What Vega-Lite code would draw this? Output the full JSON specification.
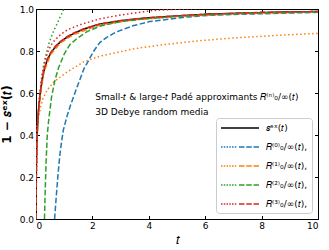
{
  "$schema": "https://vega.github.io/schema/vega-lite/v6.json",
  "width": 282,
  "height": 210,
  "autosize": {"type": "none"},
  "padding": {"left": 36, "top": 9, "right": 11, "bottom": 31},
  "background": "white",
  "config": {
    "view": {"stroke": "black", "strokeWidth": 1},
    "font": "DejaVu Sans",
    "axis": {"grid": false, "domain": false, "tickColor": "black", "tickSize": -3.5, "tickWidth": 1, "labelColor": "black", "labelFontSize": 9, "labelFont": "DejaVu Sans", "titleColor": "black"}
  },
  "datasets": {
    "curves": [
      {"c": "sex", "k": "solid", "t": 0, "y": 0}, {"c": "sex", "k": "solid", "t": 0.003, "y": 0.12}, {"c": "sex", "k": "solid", "t": 0.008, "y": 0.2}, {"c": "sex", "k": "solid", "t": 0.015, "y": 0.27}, {"c": "sex", "k": "solid", "t": 0.03, "y": 0.36}, {"c": "sex", "k": "solid", "t": 0.047, "y": 0.424}, {"c": "sex", "k": "solid", "t": 0.07, "y": 0.48}, {"c": "sex", "k": "solid", "t": 0.1, "y": 0.53}, {"c": "sex", "k": "solid", "t": 0.14, "y": 0.582}, {"c": "sex", "k": "solid", "t": 0.2, "y": 0.645}, {"c": "sex", "k": "solid", "t": 0.28, "y": 0.705}, {"c": "sex", "k": "solid", "t": 0.4, "y": 0.758}, {"c": "sex", "k": "solid", "t": 0.52, "y": 0.789}, {"c": "sex", "k": "solid", "t": 0.7, "y": 0.822}, {"c": "sex", "k": "solid", "t": 0.87, "y": 0.844}, {"c": "sex", "k": "solid", "t": 1.1, "y": 0.866}, {"c": "sex", "k": "solid", "t": 1.34, "y": 0.884}, {"c": "sex", "k": "solid", "t": 1.7, "y": 0.905}, {"c": "sex", "k": "solid", "t": 2.26, "y": 0.928}, {"c": "sex", "k": "solid", "t": 3, "y": 0.944}, {"c": "sex", "k": "solid", "t": 3.44, "y": 0.951}, {"c": "sex", "k": "solid", "t": 4, "y": 0.958}, {"c": "sex", "k": "solid", "t": 5, "y": 0.967}, {"c": "sex", "k": "solid", "t": 6.15, "y": 0.976}, {"c": "sex", "k": "solid", "t": 7, "y": 0.979}, {"c": "sex", "k": "solid", "t": 8, "y": 0.983}, {"c": "sex", "k": "solid", "t": 9, "y": 0.986}, {"c": "sex", "k": "solid", "t": 10, "y": 0.988},

      {"c": "R0", "k": "dashed", "t": 0.66, "y": 0}, {"c": "R0", "k": "dashed", "t": 0.72, "y": 0.11}, {"c": "R0", "k": "dashed", "t": 0.78, "y": 0.21}, {"c": "R0", "k": "dashed", "t": 0.85, "y": 0.31}, {"c": "R0", "k": "dashed", "t": 0.92, "y": 0.38}, {"c": "R0", "k": "dashed", "t": 0.97, "y": 0.424}, {"c": "R0", "k": "dashed", "t": 1.1, "y": 0.49}, {"c": "R0", "k": "dashed", "t": 1.22, "y": 0.54}, {"c": "R0", "k": "dashed", "t": 1.38, "y": 0.6}, {"c": "R0", "k": "dashed", "t": 1.46, "y": 0.63}, {"c": "R0", "k": "dashed", "t": 1.7, "y": 0.715}, {"c": "R0", "k": "dashed", "t": 2.05, "y": 0.8}, {"c": "R0", "k": "dashed", "t": 2.26, "y": 0.84}, {"c": "R0", "k": "dashed", "t": 2.52, "y": 0.866}, {"c": "R0", "k": "dashed", "t": 2.87, "y": 0.892}, {"c": "R0", "k": "dashed", "t": 3.44, "y": 0.92}, {"c": "R0", "k": "dashed", "t": 4.03, "y": 0.94}, {"c": "R0", "k": "dashed", "t": 5.2, "y": 0.96}, {"c": "R0", "k": "dashed", "t": 6.15, "y": 0.97}, {"c": "R0", "k": "dashed", "t": 7, "y": 0.974}, {"c": "R0", "k": "dashed", "t": 7.9, "y": 0.977}, {"c": "R0", "k": "dashed", "t": 9, "y": 0.981}, {"c": "R0", "k": "dashed", "t": 10, "y": 0.984},

      {"c": "R1", "k": "dashed", "t": 0, "y": 0}, {"c": "R1", "k": "dashed", "t": 0.008, "y": 0.195}, {"c": "R1", "k": "dashed", "t": 0.03, "y": 0.355}, {"c": "R1", "k": "dashed", "t": 0.07, "y": 0.475}, {"c": "R1", "k": "dashed", "t": 0.14, "y": 0.577}, {"c": "R1", "k": "dashed", "t": 0.28, "y": 0.7}, {"c": "R1", "k": "dashed", "t": 0.52, "y": 0.784}, {"c": "R1", "k": "dashed", "t": 0.87, "y": 0.839}, {"c": "R1", "k": "dashed", "t": 1.34, "y": 0.879}, {"c": "R1", "k": "dashed", "t": 2.26, "y": 0.924}, {"c": "R1", "k": "dashed", "t": 3.44, "y": 0.948}, {"c": "R1", "k": "dashed", "t": 5, "y": 0.964}, {"c": "R1", "k": "dashed", "t": 7, "y": 0.977}, {"c": "R1", "k": "dashed", "t": 10, "y": 0.986},

      {"c": "R1", "k": "dotted", "t": 0, "y": 0}, {"c": "R1", "k": "dotted", "t": 0.01, "y": 0.3}, {"c": "R1", "k": "dotted", "t": 0.03, "y": 0.42}, {"c": "R1", "k": "dotted", "t": 0.05, "y": 0.457}, {"c": "R1", "k": "dotted", "t": 0.12, "y": 0.503}, {"c": "R1", "k": "dotted", "t": 0.165, "y": 0.535}, {"c": "R1", "k": "dotted", "t": 0.25, "y": 0.575}, {"c": "R1", "k": "dotted", "t": 0.4, "y": 0.614}, {"c": "R1", "k": "dotted", "t": 0.64, "y": 0.654}, {"c": "R1", "k": "dotted", "t": 1.1, "y": 0.7}, {"c": "R1", "k": "dotted", "t": 1.7, "y": 0.749}, {"c": "R1", "k": "dotted", "t": 2.29, "y": 0.776}, {"c": "R1", "k": "dotted", "t": 3.11, "y": 0.8}, {"c": "R1", "k": "dotted", "t": 3.44, "y": 0.81}, {"c": "R1", "k": "dotted", "t": 4.5, "y": 0.83}, {"c": "R1", "k": "dotted", "t": 5.8, "y": 0.849}, {"c": "R1", "k": "dotted", "t": 7, "y": 0.862}, {"c": "R1", "k": "dotted", "t": 8.5, "y": 0.874}, {"c": "R1", "k": "dotted", "t": 10, "y": 0.884},

      {"c": "R2", "k": "dashed", "t": 0.3, "y": 0}, {"c": "R2", "k": "dashed", "t": 0.33, "y": 0.15}, {"c": "R2", "k": "dashed", "t": 0.36, "y": 0.28}, {"c": "R2", "k": "dashed", "t": 0.4, "y": 0.4}, {"c": "R2", "k": "dashed", "t": 0.45, "y": 0.47}, {"c": "R2", "k": "dashed", "t": 0.55, "y": 0.58}, {"c": "R2", "k": "dashed", "t": 0.67, "y": 0.66}, {"c": "R2", "k": "dashed", "t": 0.8, "y": 0.72}, {"c": "R2", "k": "dashed", "t": 1.0, "y": 0.785}, {"c": "R2", "k": "dashed", "t": 1.2, "y": 0.83}, {"c": "R2", "k": "dashed", "t": 1.46, "y": 0.86}, {"c": "R2", "k": "dashed", "t": 1.81, "y": 0.892}, {"c": "R2", "k": "dashed", "t": 2.26, "y": 0.918}, {"c": "R2", "k": "dashed", "t": 3, "y": 0.94}, {"c": "R2", "k": "dashed", "t": 4, "y": 0.955}, {"c": "R2", "k": "dashed", "t": 5, "y": 0.965}, {"c": "R2", "k": "dashed", "t": 6, "y": 0.972}, {"c": "R2", "k": "dashed", "t": 7, "y": 0.977}, {"c": "R2", "k": "dashed", "t": 8, "y": 0.981}, {"c": "R2", "k": "dashed", "t": 9, "y": 0.984}, {"c": "R2", "k": "dashed", "t": 10, "y": 0.986},

      {"c": "R2", "k": "dotted", "t": 0, "y": 0}, {"c": "R2", "k": "dotted", "t": 0.02, "y": 0.29}, {"c": "R2", "k": "dotted", "t": 0.05, "y": 0.44}, {"c": "R2", "k": "dotted", "t": 0.1, "y": 0.55}, {"c": "R2", "k": "dotted", "t": 0.165, "y": 0.63}, {"c": "R2", "k": "dotted", "t": 0.22, "y": 0.69}, {"c": "R2", "k": "dotted", "t": 0.28, "y": 0.741}, {"c": "R2", "k": "dotted", "t": 0.37, "y": 0.79}, {"c": "R2", "k": "dotted", "t": 0.46, "y": 0.836}, {"c": "R2", "k": "dotted", "t": 0.55, "y": 0.87}, {"c": "R2", "k": "dotted", "t": 0.64, "y": 0.9}, {"c": "R2", "k": "dotted", "t": 0.73, "y": 0.925}, {"c": "R2", "k": "dotted", "t": 0.85, "y": 0.96}, {"c": "R2", "k": "dotted", "t": 0.97, "y": 0.995}, {"c": "R2", "k": "dotted", "t": 1.08, "y": 1.035}, {"c": "R2", "k": "dotted", "t": 1.2, "y": 1.07},

      {"c": "R3", "k": "dashed", "t": 0, "y": 0}, {"c": "R3", "k": "dashed", "t": 0.01, "y": 0.2}, {"c": "R3", "k": "dashed", "t": 0.02, "y": 0.28}, {"c": "R3", "k": "dashed", "t": 0.04, "y": 0.4}, {"c": "R3", "k": "dashed", "t": 0.07, "y": 0.49}, {"c": "R3", "k": "dashed", "t": 0.1, "y": 0.54}, {"c": "R3", "k": "dashed", "t": 0.14, "y": 0.59}, {"c": "R3", "k": "dashed", "t": 0.2, "y": 0.65}, {"c": "R3", "k": "dashed", "t": 0.28, "y": 0.71}, {"c": "R3", "k": "dashed", "t": 0.4, "y": 0.762}, {"c": "R3", "k": "dashed", "t": 0.52, "y": 0.792}, {"c": "R3", "k": "dashed", "t": 0.7, "y": 0.825}, {"c": "R3", "k": "dashed", "t": 0.87, "y": 0.846}, {"c": "R3", "k": "dashed", "t": 1.1, "y": 0.868}, {"c": "R3", "k": "dashed", "t": 1.34, "y": 0.886}, {"c": "R3", "k": "dashed", "t": 1.7, "y": 0.906}, {"c": "R3", "k": "dashed", "t": 2.26, "y": 0.929}, {"c": "R3", "k": "dashed", "t": 3, "y": 0.945}, {"c": "R3", "k": "dashed", "t": 4, "y": 0.959}, {"c": "R3", "k": "dashed", "t": 5, "y": 0.968}, {"c": "R3", "k": "dashed", "t": 6.15, "y": 0.976}, {"c": "R3", "k": "dashed", "t": 7, "y": 0.98}, {"c": "R3", "k": "dashed", "t": 8, "y": 0.984}, {"c": "R3", "k": "dashed", "t": 9, "y": 0.986}, {"c": "R3", "k": "dashed", "t": 10, "y": 0.988},

      {"c": "R3", "k": "dotted", "t": 0, "y": 0}, {"c": "R3", "k": "dotted", "t": 0.02, "y": 0.28}, {"c": "R3", "k": "dotted", "t": 0.05, "y": 0.44}, {"c": "R3", "k": "dotted", "t": 0.1, "y": 0.54}, {"c": "R3", "k": "dotted", "t": 0.14, "y": 0.6}, {"c": "R3", "k": "dotted", "t": 0.2, "y": 0.67}, {"c": "R3", "k": "dotted", "t": 0.28, "y": 0.73}, {"c": "R3", "k": "dotted", "t": 0.4, "y": 0.79}, {"c": "R3", "k": "dotted", "t": 0.52, "y": 0.825}, {"c": "R3", "k": "dotted", "t": 0.64, "y": 0.848}, {"c": "R3", "k": "dotted", "t": 0.87, "y": 0.878}, {"c": "R3", "k": "dotted", "t": 1.1, "y": 0.9}, {"c": "R3", "k": "dotted", "t": 1.55, "y": 0.925}, {"c": "R3", "k": "dotted", "t": 2.26, "y": 0.953}, {"c": "R3", "k": "dotted", "t": 2.8, "y": 0.967}, {"c": "R3", "k": "dotted", "t": 3.44, "y": 0.98}, {"c": "R3", "k": "dotted", "t": 4.15, "y": 0.993}, {"c": "R3", "k": "dotted", "t": 5, "y": 0.999}, {"c": "R3", "k": "dotted", "t": 6, "y": 1.003}, {"c": "R3", "k": "dotted", "t": 8, "y": 1.006}, {"c": "R3", "k": "dotted", "t": 10, "y": 1.008}
    ],
    "notes": [
      {"t": 2.1, "y": 0.581, "label": "Small-𝑡 & large-𝑡 Padé approximants 𝑅⁽ⁿ⁾₀/∞(𝑡)"},
      {"t": 2.1, "y": 0.51, "label": "3D Debye random media"}
    ]
  },
  "layer": [
    {
      "data": {"name": "curves"},
      "mark": {"type": "line", "strokeWidth": 1.5, "clip": true, "strokeCap": "butt"},
      "encoding": {
        "x": {"field": "t", "type": "quantitative", "scale": {"domain": [0, 10], "nice": false}, "axis": {"orient": "bottom", "values": [0, 2, 4, 6, 8, 10], "labelPadding": 6, "title": "𝑡", "titleFontSize": 13, "titleFontWeight": "normal", "titleY": 14}},
        "y": {"field": "y", "type": "quantitative", "scale": {"domain": [0, 1], "nice": false}, "axis": {"orient": "left", "values": [0, 0.2, 0.4, 0.6, 0.8, 1.0], "format": ".1f", "labelPadding": 6, "title": "1 − 𝑠ᵉˣ(𝑡)", "titleFontSize": 12, "titleFontWeight": "bold", "titleX": -23, "titleY": 105}},
        "color": {
          "field": "c", "type": "nominal",
          "scale": {"domain": ["sex", "R0", "R1", "R2", "R3"], "range": ["#000000", "#1f77b4", "#ff7f0e", "#2ca02c", "#d62728"]},
          "legend": {
            "title": null, "orient": "bottom-right", "offset": 6, "padding": 4,
            "strokeColor": "#cccccc", "fillColor": "rgba(255,255,255,0.85)", "cornerRadius": 3,
            "symbolSize": 100, "symbolStrokeWidth": 1.5, "labelOffset": 34, "rowPadding": 8,
            "labelFontSize": 9, "labelFont": "DejaVu Sans", "labelColor": "black",
            "labelExpr": "datum.value == 'sex' ? '𝑠ᵉˣ(𝑡)' : datum.value == 'R0' ? '𝑅⁽⁰⁾₀/∞(𝑡),' : datum.value == 'R1' ? '𝑅⁽¹⁾₀/∞(𝑡),' : datum.value == 'R2' ? '𝑅⁽²⁾₀/∞(𝑡),' : '𝑅⁽³⁾₀/∞(𝑡),'",
            "encode": {
              "symbols": {
                "update": {
                  "shape": {"signal": "datum.value == 'sex' ? 'M-1,0h7.6' : 'M-1,0h0.3M-0.45,0h0.3M0.1,0h0.3M0.65,0h0.3M1.2,0h0.3M1.75,0h0.3M2.6,0h1.1M4.05,0h1.1M5.5,0h1.1'"},
                  "fill": {"value": "transparent"},
                  "strokeDash": {"value": []}
                }
              }
            }
          }
        },
        "strokeDash": {"field": "k", "type": "nominal", "scale": {"domain": ["solid", "dashed", "dotted"], "range": [[1, 0], [5.5, 2.4], [1.5, 2.5]]}, "legend": null}
      }
    },
    {
      "data": {"name": "curves"},
      "mark": {"type": "point", "opacity": 0},
      "encoding": {
        "x": {"field": "t", "type": "quantitative", "axis": {"orient": "top", "values": [0, 2, 4, 6, 8, 10], "labels": false, "title": null}},
        "y": {"field": "y", "type": "quantitative", "axis": {"orient": "right", "values": [0, 0.2, 0.4, 0.6, 0.8, 1.0], "labels": false, "title": null}}
      }
    },
    {
      "data": {"name": "notes"},
      "mark": {"type": "text", "align": "left", "baseline": "middle", "fontSize": 9, "font": "DejaVu Sans", "color": "black"},
      "encoding": {
        "x": {"field": "t", "type": "quantitative", "axis": null},
        "y": {"field": "y", "type": "quantitative", "axis": null},
        "text": {"field": "label"}
      }
    }
  ],
  "resolve": {"axis": {"x": "independent", "y": "independent"}}
}
